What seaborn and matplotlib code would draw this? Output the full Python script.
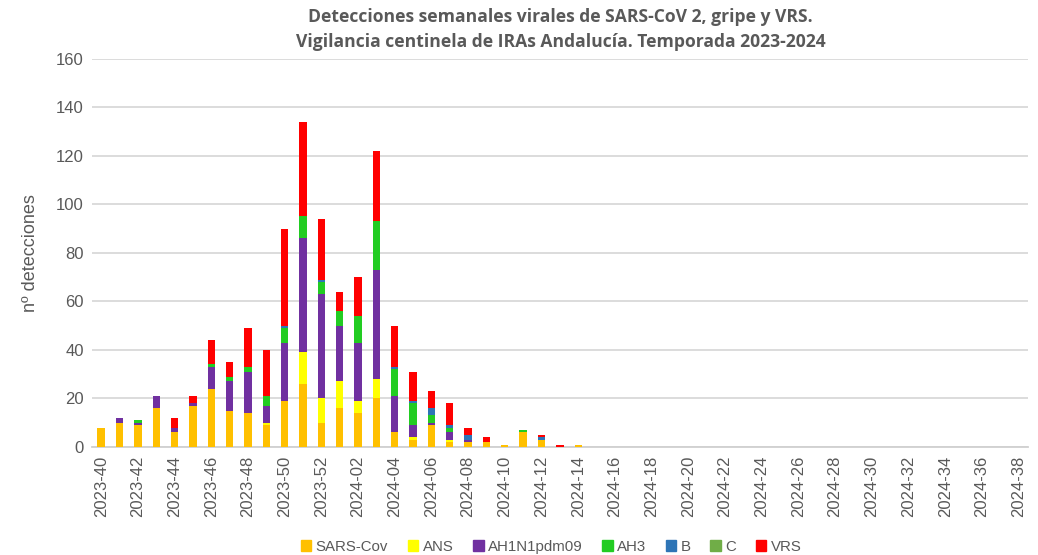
import numpy as np
import pandas as pd
import matplotlib
matplotlib.use("Agg")
import matplotlib.pyplot as plt
import seaborn as sns

weeks = ["2023-%02d" % w for w in range(40, 53)] + ["2024-%02d" % w for w in range(1, 39)]
pad = [0] * 24

sars = [8, 10, 9, 16, 6, 17, 24, 15, 14, 9, 19, 26, 10, 16, 14, 20, 6, 3, 9, 2, 2, 2, 1, 6, 3, 0, 1] + pad
ans = [0, 0, 0, 0, 0, 0, 0, 0, 0, 1, 0, 13, 10, 11, 5, 8, 0, 1, 0, 1, 0, 0, 0, 0, 0, 0, 0] + pad
ah1n1 = [0, 2, 1, 5, 2, 1, 9, 12, 17, 7, 24, 47, 43, 23, 24, 45, 15, 5, 1, 3, 1, 0, 0, 0, 0, 0, 0] + pad
ah3 = [0, 0, 1, 0, 0, 0, 1, 2, 2, 4, 6, 9, 5, 6, 11, 20, 11, 9, 3, 2, 0, 0, 0, 1, 0, 0, 0] + pad
b = [0, 0, 0, 0, 0, 0, 0, 0, 0, 0, 1, 0, 1, 0, 0, 0, 1, 1, 3, 1, 2, 0, 0, 0, 1, 0, 0] + pad
c = [0] * 51
vrs = [0, 0, 0, 0, 4, 3, 10, 6, 16, 19, 40, 39, 25, 8, 16, 29, 17, 12, 7, 9, 3, 2, 0, 0, 1, 1, 0] + pad

series = ["SARS-Cov", "ANS", "AH1N1pdm09", "AH3", "B", "C", "VRS"]
values = [sars, ans, ah1n1, ah3, b, c, vrs]
colors = ["#FFC000", "#FFFF00", "#7030A0", "#22CC22", "#2E75B6", "#70AD47", "#FF0000"]

df = pd.DataFrame(dict(zip(series, values)), index=weeks)
cum = df.cumsum(axis=1)

sns.set_style("white")
plt.rcParams["font.family"] = ["Liberation Sans", "DejaVu Sans"]

fig = plt.figure(figsize=(10.38, 5.55), dpi=100)
ax = fig.add_axes([0.0886, 0.1946, 0.9015, 0.6995])

# draw cumulative layers from the top down so each one shows its own slice
for name, col in reversed(list(zip(series, colors))):
    sns.barplot(x=cum.index, y=cum[name].values, color=col, width=0.4,
                saturation=1, ax=ax, zorder=3, linewidth=0, edgecolor="none")

ax.set_ylim(0, 160)
ax.set_xlim(-0.5, len(weeks) - 0.5)
ax.set_yticks(range(0, 161, 20))
ax.set_xticks(range(0, len(weeks), 2))
ax.set_xticklabels(weeks[::2], rotation=90)
ax.tick_params(axis="both", labelsize=12, colors="#595959", length=0, pad=6)
ax.yaxis.grid(True, color="#D9D9D9", linewidth=1.3, zorder=0)
ax.set_axisbelow(True)
for s in ["top", "right", "left"]:
    ax.spines[s].set_visible(False)
ax.spines["bottom"].set_color("#D0D0D0")
ax.spines["bottom"].set_linewidth(1.3)
ax.set_xlabel("")
ax.set_ylabel("nº detecciones", fontsize=13, color="#595959", labelpad=12)

fig.suptitle("Detecciones semanales virales de SARS-CoV 2, gripe y VRS.\n"
             "Vigilancia centinela de IRAs Andalucía. Temporada 2023-2024",
             fontsize=12.6, fontweight="bold", color="#595959", x=0.54, y=0.985,
             family=["Open Sans", "DejaVu Sans"], linespacing=1.45)

handles = [plt.Rectangle((0, 0), 1, 1, color=col) for col in colors]
fig.legend(handles, series, loc="lower center", bbox_to_anchor=(0.531, -0.022),
           ncol=7, frameon=False, fontsize=10.8, handlelength=0.7,
           handleheight=0.7, handletextpad=0.3, columnspacing=1.3,
           labelcolor="#595959")

fig.savefig("out.png", dpi=100)
